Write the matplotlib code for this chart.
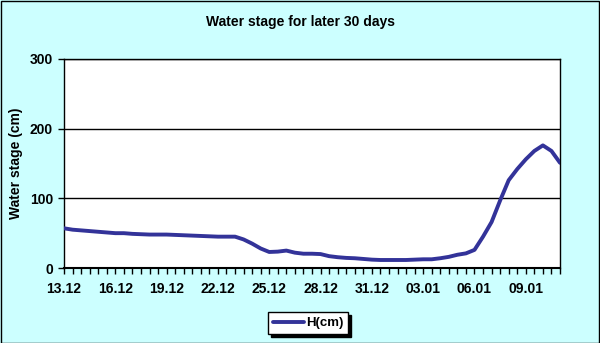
import matplotlib
matplotlib.use("Agg")
import matplotlib.pyplot as plt
from matplotlib.patches import Rectangle

# water stage every 12 hours, 13.12 -> 11.01
stage_cm = [57, 55, 54, 53, 52, 51, 50, 50, 49, 48.5,
            48, 48, 48, 47.5, 47, 46.5, 46, 45.5, 45, 45,
            45, 41, 35, 28, 23, 23.5, 25, 22, 20.5, 20.5,
            20, 17, 15.5, 14.5, 14, 13, 12, 11.5, 11.5, 11.5,
            11.5, 12, 12.5, 12.5, 14, 16, 19, 21, 26, 45,
            66, 97, 126, 142, 156, 168, 176, 168, 151]
day_labels = ["13.12", "16.12", "19.12", "22.12", "25.12",
              "28.12", "31.12", "03.01", "06.01", "09.01"]
y_ticks = [0, 100, 200, 300]

plt.rcParams['font.family'] = ['Liberation Sans', 'DejaVu Sans']
plt.rcParams['font.weight'] = 'bold'

fig = plt.figure(figsize=(6, 3.43), dpi=100, facecolor='#ccffff')
ax = fig.add_axes([64/600, 1 - 268/343, 496/600, 209/343])
ax.set_facecolor('white')

x = list(range(len(stage_cm)))
ax.plot(x, stage_cm, color='#333399', lw=2.8, solid_joinstyle='round',
        solid_capstyle='round', label='H(cm)', zorder=3)

ax.set_xlim(0, len(stage_cm) - 1)
ax.set_ylim(0, 300)
ax.set_yticks(y_ticks)
ax.set_yticklabels([str(v) for v in y_ticks], fontsize=10, fontweight='bold')
ax.set_xticks(x, minor=True)
ax.set_xticks(list(range(0, 6 * len(day_labels), 6)))
ax.set_xticklabels(day_labels, fontsize=10, fontweight='bold')
ax.tick_params(axis='x', which='both', direction='out', length=4, width=1, pad=6)
ax.tick_params(axis='y', direction='out', length=4, width=1, pad=4)
ax.grid(axis='y', color='black', lw=1)
for s in ax.spines.values():
    s.set_color('black')
    s.set_linewidth(1)
ax.spines['bottom'].set_linewidth(1.5)

fig.text(0.5, 1 - 22/343, 'Water stage for later 30 days', ha='center', va='center',
         fontsize=10, fontweight='bold')
fig.text(16/600, 1 - 163/343, 'Water stage (cm)', rotation=90, ha='center', va='center',
         fontsize=10, fontweight='bold')

leg = fig.legend(loc='center', bbox_to_anchor=(308/600, 1 - 323/343), fontsize=9.5,
                 frameon=True, fancybox=False, edgecolor='black', handlelength=2.4,
                 borderpad=0.35, handletextpad=0.1,
                 shadow={'color': 'black', 'alpha': 1})
leg.get_frame().set_linewidth(1)

fig.patches.append(Rectangle((0.001, 0.001), 0.997, 0.996, transform=fig.transFigure,
                             fill=False, edgecolor='black', lw=1))

fig.savefig('out.png', dpi=100, facecolor=fig.get_facecolor())
